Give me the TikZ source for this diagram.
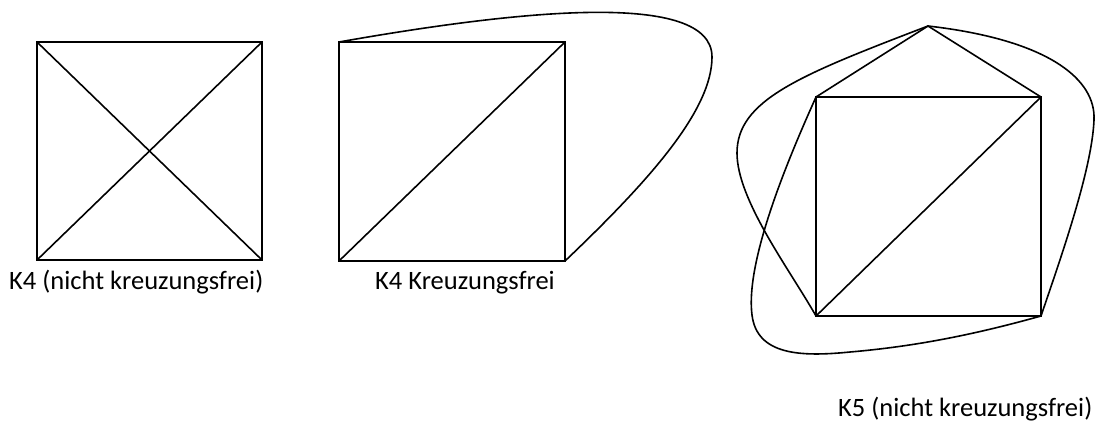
\documentclass[tikz,border=0pt]{standalone}
\usepackage{fontspec}
\setmainfont{Carlito}
\tikzset{
  edge/.style={line width=1.6pt, line join=miter, line cap=round},
  vtx/.style={coordinate},
  lbl/.style={inner sep=0pt, anchor=base west, font=\fontsize{26.5}{30}\selectfont}
}
\begin{document}
\begin{tikzpicture}[x=1pt,y=-1pt]
\useasboundingbox (0,0) rectangle (1096,424);
% ---- K4 with crossing ----
\node[vtx] (a1) at (37,42) {};
\node[vtx] (a2) at (262,42) {};
\node[vtx] (a3) at (262,260) {};
\node[vtx] (a4) at (37,260) {};
\draw[edge] (a1) -- (a2) -- (a3) -- (a4) -- cycle;
\draw[edge] (a1) -- (a3);
\draw[edge] (a2) -- (a4);
\node[lbl] (l1) at (9,289) {K4 (nicht kreuzungsfrei)};
% ---- K4 planar ----
\node[vtx] (b1) at (339,42) {};
\node[vtx] (b2) at (565,42) {};
\node[vtx] (b3) at (565,261) {};
\node[vtx] (b4) at (339,261) {};
\draw[edge] (b1) -- (b2) -- (b3) -- (b4) -- cycle;
\draw[edge] (b4) -- (b2);
\draw[edge] (b1) .. controls (520,10) and (712,-10) .. (712,57)
               .. controls (712,110) and (650,180) .. (b3);
\node[lbl] (l2) at (375,289) {K4 Kreuzungsfrei};
% ---- K5 ----
\node[vtx] (t) at (928,26) {};
\node[vtx] (c1) at (816,97) {};
\node[vtx] (c2) at (1041,97) {};
\node[vtx] (c3) at (1041,316) {};
\node[vtx] (c4) at (816,316) {};
\draw[edge] (c1) -- (c2) -- (c3) -- (c4) -- cycle;
\draw[edge] (c4) -- (c2);
\draw[edge] (c1) -- (t) -- (c2);
\draw[edge] (t) .. controls (800,75) and (737,100) .. (737,153)
               .. controls (737,200) and (790,270) .. (c4);
\draw[edge] (t) .. controls (1050,40) and (1096,80) .. (1094,120)
               .. controls (1092,170) and (1060,260) .. (c3);
\draw[edge] (c1) .. controls (790,155) and (745,260) .. (752,315)
                .. controls (757,355) and (800,357) .. (850,352)
                .. controls (920,346) and (980,333) .. (c3);
\node[lbl] (l3) at (838,416) {K5 (nicht kreuzungsfrei)};
\end{tikzpicture}
\end{document}
